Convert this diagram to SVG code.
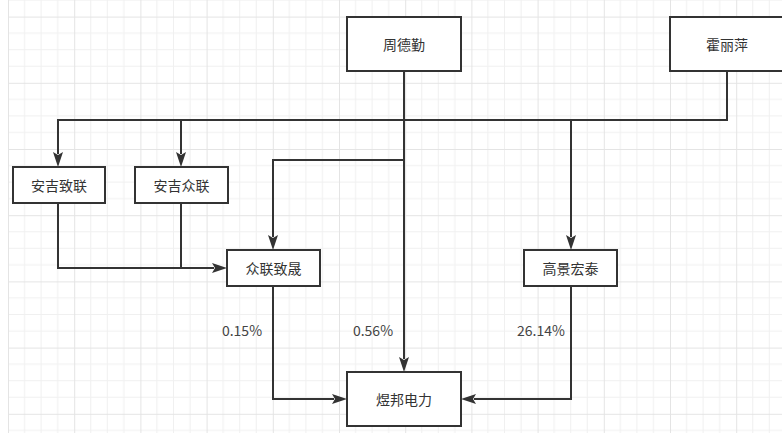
<svg xmlns="http://www.w3.org/2000/svg" width="782" height="434" viewBox="0 0 782 434">
  <style>
    .box { fill: #ffffff; stroke: #333333; stroke-width: 2; }
    .lbl { font-family: "Noto Sans CJK SC", "Liberation Sans", sans-serif; font-size: 14px; fill: #333333; text-anchor: middle; dominant-baseline: central; }
    .pct { font-family: "Noto Sans CJK SC", "Liberation Sans", sans-serif; font-size: 14px; fill: #444444; text-anchor: middle; dominant-baseline: central; }
    .edge { fill: none; stroke: #333333; stroke-width: 2; }
    .minor { stroke: #f0f0f0; stroke-width: 1; }
    .major { stroke: #e4e4e4; stroke-width: 1; }
  </style>
  <defs>
    <pattern id="grid" patternUnits="userSpaceOnUse" x="8" y="16.6" width="66.2" height="66.2">
      <line class="minor" x1="16.55" y1="0" x2="16.55" y2="66.2"/>
      <line class="minor" x1="33.1" y1="0" x2="33.1" y2="66.2"/>
      <line class="minor" x1="49.65" y1="0" x2="49.65" y2="66.2"/>
      <line class="minor" x1="0" y1="16.55" x2="66.2" y2="16.55"/>
      <line class="minor" x1="0" y1="33.1" x2="66.2" y2="33.1"/>
      <line class="minor" x1="0" y1="49.65" x2="66.2" y2="49.65"/>
      <line class="major" x1="0.5" y1="0" x2="0.5" y2="66.2"/>
      <line class="major" x1="0" y1="0.5" x2="66.2" y2="0.5"/>
    </pattern>
    <marker id="arrow" markerUnits="userSpaceOnUse" markerWidth="16" markerHeight="12" viewBox="0 -6 16 12" refX="2" refY="0" orient="auto">
      <path d="M0,-5 L15,0 L0,5 L3,0 Z" fill="#333333"/>
    </marker>
  </defs>
  <rect x="0" y="0" width="782" height="434" fill="#ffffff"/>
  <rect x="8" y="0" width="774" height="433" fill="url(#grid)"/>

  <g id="connectors">
    <path class="edge" d="M727,71 V120 H58 V154" marker-end="url(#arrow)"/>
    <path class="edge" d="M181,120 V154" marker-end="url(#arrow)"/>
    <path class="edge" d="M571,120 V237" marker-end="url(#arrow)"/>
    <path class="edge" d="M404,71 V359" marker-end="url(#arrow)"/>
    <path class="edge" d="M404,160 H273 V237" marker-end="url(#arrow)"/>
    <path class="edge" d="M58,203 V268 H214" marker-end="url(#arrow)"/>
    <path class="edge" d="M181,203 V268"/>
    <path class="edge" d="M273,286 V399 H334" marker-end="url(#arrow)"/>
    <path class="edge" d="M571,286 V399 H474" marker-end="url(#arrow)"/>
  </g>

  <g id="label-015"><text class="pct" x="242" y="330">0.15%</text></g>
  <g id="label-056"><text class="pct" x="373" y="330">0.56%</text></g>
  <g id="label-2614"><text class="pct" x="541" y="330">26.14%</text></g>

  <g id="zhou-deqin">
    <rect class="box" x="347" y="17" width="114" height="54"/>
    <text class="lbl" x="404" y="44">周德勤</text>
  </g>
  <g id="huo-liping">
    <rect class="box" x="670" y="17" width="114" height="54"/>
    <text class="lbl" x="727" y="44">霍丽萍</text>
  </g>
  <g id="anji-zhilian">
    <rect class="box" x="13" y="167" width="92" height="36"/>
    <text class="lbl" x="59" y="185">安吉致联</text>
  </g>
  <g id="anji-zhonglian">
    <rect class="box" x="135" y="167" width="93" height="36"/>
    <text class="lbl" x="181.5" y="185">安吉众联</text>
  </g>
  <g id="zhonglian-zhisheng">
    <rect class="box" x="227" y="250" width="93" height="36"/>
    <text class="lbl" x="273.5" y="268">众联致晟</text>
  </g>
  <g id="gaojing-hongtai">
    <rect class="box" x="524" y="250" width="93" height="36"/>
    <text class="lbl" x="570.5" y="268">高景宏泰</text>
  </g>
  <g id="yubang-dianli">
    <rect class="box" x="347" y="372" width="114" height="54"/>
    <text class="lbl" x="404" y="399">煜邦电力</text>
  </g>
</svg>
